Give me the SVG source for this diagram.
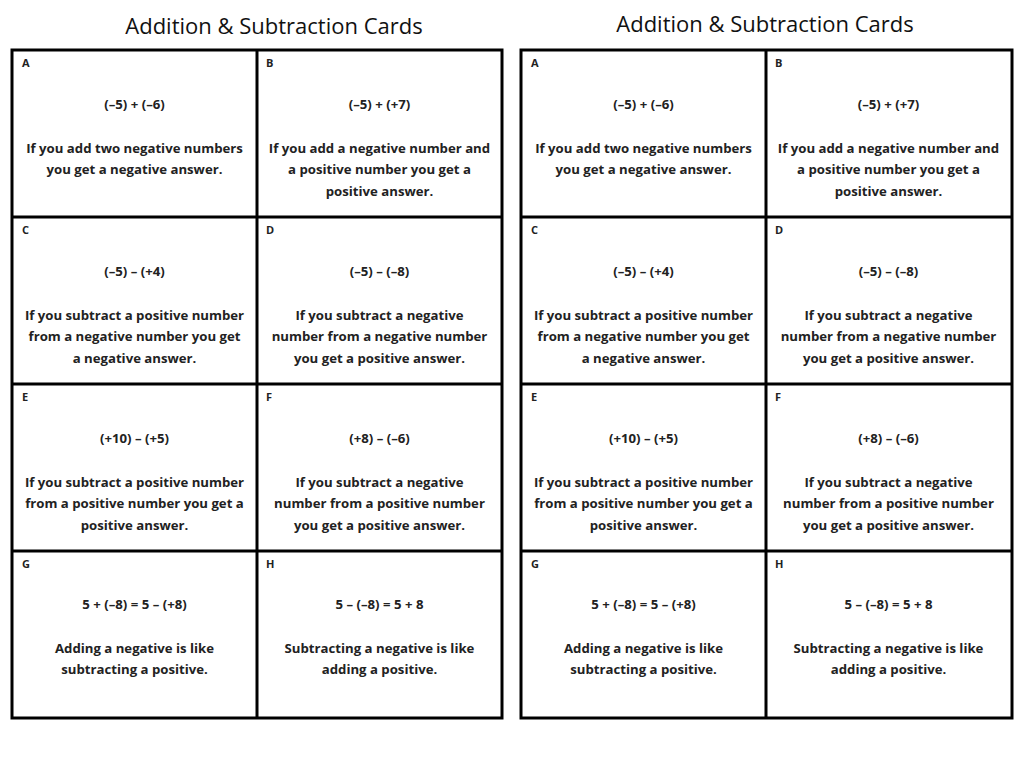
<svg xmlns="http://www.w3.org/2000/svg" width="1024" height="768" viewBox="0 0 1024 768">
<style>
.t{font-family:"Open Sans","Liberation Sans",sans-serif;font-size:22px;fill:#111}
.l{font-family:"Open Sans","Liberation Sans",sans-serif;font-size:11px;font-weight:bold;fill:#222}
.c{font-family:"Open Sans","Liberation Sans",sans-serif;font-size:13.2px;font-weight:bold;fill:#222;text-anchor:middle}
.g{fill:none;stroke:#000;stroke-width:3}
</style>
<rect width="1024" height="768" fill="#fff"/>
<text class="t" x="274" y="34" text-anchor="middle">Addition &amp; Subtraction Cards</text>
<text class="t" x="765" y="32" text-anchor="middle">Addition &amp; Subtraction Cards</text>
<g id="grid">
<rect class="g" x="12" y="50" width="490" height="668"/>
<path class="g" d="M257 50V718M12 217H502M12 384H502M12 551H502"/>
<rect class="g" x="521" y="50" width="491" height="668"/>
<path class="g" d="M766 50V718M521 217H1012M521 384H1012M521 551H1012"/>
</g>
<defs>
<g id="L">
<g id="cA"><text class="l" x="22" y="67">A</text><text class="c" x="134.5" y="109">(–5) + (–6)</text><text class="c" x="134.5" y="153">If you add two negative numbers</text><text class="c" x="134.5" y="174">you get a negative answer.</text></g>
<g id="cB"><text class="l" x="266" y="67">B</text><text class="c" x="379.5" y="109">(–5) + (+7)</text><text class="c" x="379.5" y="153">If you add a negative number and</text><text class="c" x="379.5" y="174">a positive number you get a</text><text class="c" x="379.5" y="196">positive answer.</text></g>
<g id="cC"><text class="l" x="22" y="234">C</text><text class="c" x="134.5" y="276">(–5) – (+4)</text><text class="c" x="134.5" y="320">If you subtract a positive number</text><text class="c" x="134.5" y="341">from a negative number you get</text><text class="c" x="134.5" y="363">a negative answer.</text></g>
<g id="cD"><text class="l" x="266" y="234">D</text><text class="c" x="379.5" y="276">(–5) – (–8)</text><text class="c" x="379.5" y="320">If you subtract a negative</text><text class="c" x="379.5" y="341">number from a negative number</text><text class="c" x="379.5" y="363">you get a positive answer.</text></g>
<g id="cE"><text class="l" x="22" y="401">E</text><text class="c" x="134.5" y="443">(+10) – (+5)</text><text class="c" x="134.5" y="487">If you subtract a positive number</text><text class="c" x="134.5" y="508">from a positive number you get a</text><text class="c" x="134.5" y="530">positive answer.</text></g>
<g id="cF"><text class="l" x="266" y="401">F</text><text class="c" x="379.5" y="443">(+8) – (–6)</text><text class="c" x="379.5" y="487">If you subtract a negative</text><text class="c" x="379.5" y="508">number from a positive number</text><text class="c" x="379.5" y="530">you get a positive answer.</text></g>
<g id="cG"><text class="l" x="22" y="568">G</text><text class="c" x="134.5" y="609">5 + (–8) = 5 – (+8)</text><text class="c" x="134.5" y="653">Adding a negative is like</text><text class="c" x="134.5" y="674">subtracting a positive.</text></g>
<g id="cH"><text class="l" x="266" y="568">H</text><text class="c" x="379.5" y="609">5 – (–8) = 5 + 8</text><text class="c" x="379.5" y="653">Subtracting a negative is like</text><text class="c" x="379.5" y="674">adding a positive.</text></g>
</g>
</defs>
<g id="left"><use href="#L"/></g>
<g id="right"><use href="#L" x="509"/></g>
</svg>
